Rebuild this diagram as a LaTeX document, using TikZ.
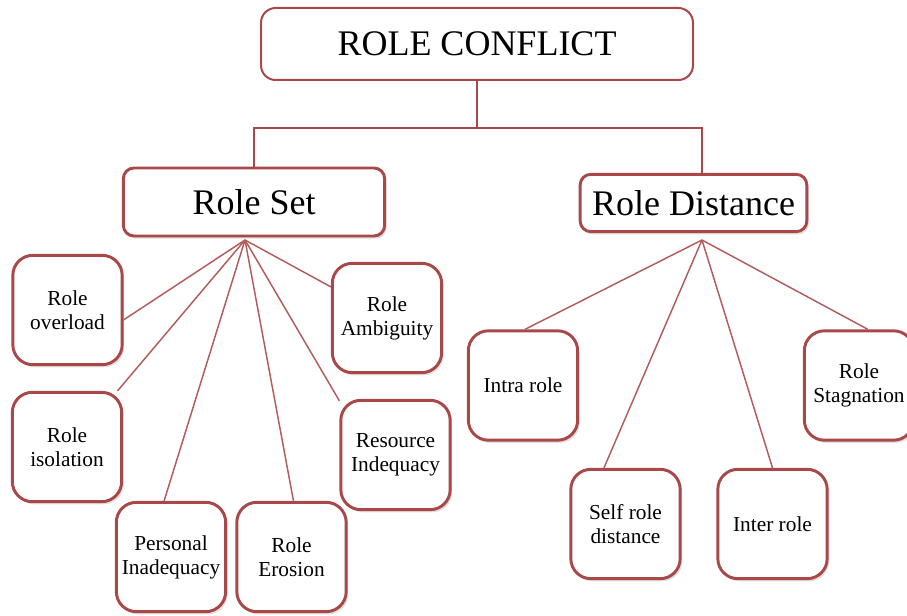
\documentclass[tikz,border=0pt]{standalone}
\usepackage{fontspec}
\setmainfont{Liberation Serif}
\usetikzlibrary{positioning,shadows}
\definecolor{rolered}{RGB}{168,72,72}
\definecolor{linkred}{RGB}{178,92,92}

\begin{document}
\begin{tikzpicture}[
    x=0.75pt, y=-0.75pt,
    headbox/.style={
        draw=rolered,
        line width=1.5pt,
        rounded corners=11pt,
        fill=white,
        minimum width=324pt,
        minimum height=54pt,
        font=\fontsize{27}{30}\selectfont
    },
    groupbox/.style={
        draw=rolered,
        line width=2.2pt,
        rounded corners=8pt,
        fill=white,
        drop shadow={shadow xshift=1.5pt, shadow yshift=-2pt, opacity=0.25},
        font=\fontsize{27}{30}\selectfont
    },
    leafbox/.style={
        draw=rolered,
        line width=2.2pt,
        rounded corners=15pt,
        fill=white,
        minimum width=82pt,
        minimum height=82pt,
        align=center,
        drop shadow={shadow xshift=1.5pt, shadow yshift=-2pt, opacity=0.25},
        font=\fontsize{16}{18}\selectfont
    },
    link/.style={draw=linkred, line width=1.1pt}
]
\useasboundingbox (0,0) rectangle (907,616);

% top level
\node[headbox] (conflict) at (477,44) {ROLE CONFLICT};

\node[groupbox, minimum width=196pt, minimum height=51pt] (rset) at (254,202) {Role Set};
\node[groupbox, minimum width=170pt, minimum height=43pt] (rdist) at (693.5,203) {Role Distance};

\coordinate (bar) at (477,128);
\draw[rolered, line width=1.5pt] (conflict.south) -- (bar);
\draw[rolered, line width=1.5pt] (rset.north) |- (bar) -| ([xshift=6.4pt]rdist.north);

% role set
\node[leafbox] (ovl) at (67.5,310) {Role\\overload};
\node[leafbox] (amb) at (387,318) {Role\\Ambiguity};
\node[leafbox] (iso) at (67,447) {Role\\isolation};
\node[leafbox] (res) at (395.5,455) {Resource\\Indequacy};
\node[leafbox] (pers) at (171,557) {Personal\\Inadequacy};
\node[leafbox] (ero) at (291.5,557) {Role\\Erosion};

\coordinate (setfan) at (245,240);
\draw[link] (setfan) -- (ovl.-10);
\draw[link] (setfan) -- (amb.151);
\draw[link] (setfan) -- (iso.48);
\draw[link] (setfan) -- (res.136);
\draw[link] (setfan) -- (pers.97);
\draw[link] (setfan) -- (ero.88);

% role distance
\node[leafbox] (intra) at (523,385.5) {Intra role};
\node[leafbox] (stag) at (859,385.5) {Role\\Stagnation};
\node[leafbox] (self) at (625.5,524) {Self role\\distance};
\node[leafbox] (inter) at (772.5,524) {Inter role};

\coordinate (distfan) at (702,240);
\draw[link] (distfan) -- (intra.88);
\draw[link] (distfan) -- (stag.81);
\draw[link] (distfan) -- (self.111);
\draw[link] (distfan) -- (inter.north);

\end{tikzpicture}
\end{document}
